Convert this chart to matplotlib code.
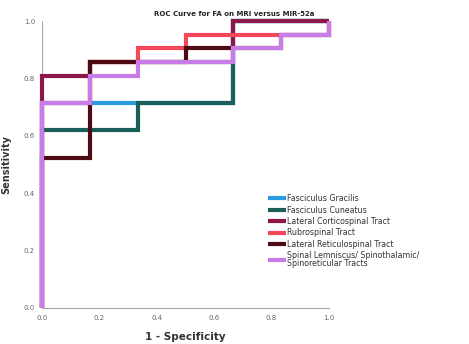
import matplotlib
matplotlib.use("Agg")
import matplotlib.pyplot as plt

title = "ROC Curve for FA on MRI versus MiR-52a"
xlabel = "1 - Specificity"
ylabel = "Sensitivity"

names = [
    "Fasciculus Gracilis",
    "Fasciculus Cuneatus",
    "Lateral Corticospinal Tract",
    "Rubrospinal Tract",
    "Lateral Reticulospinal Tract",
    "Spinal Lemniscus/ Spinothalamic/\nSpinoreticular Tracts",
]
colors = ["#2a9be0", "#1b5f5a", "#8c1748", "#f5475a", "#4d0a12", "#c87ce8"]

fx = [0, 0, 1/6, 1/6, 1/3, 1/3, 2/3, 2/3, 1]
gracilis_y = [0, 0.714, 0.714, 0.714, 0.714, 0.714, 0.714, 1.0, 1.0]
cuneatus_y = [0, 0.619, 0.619, 0.619, 0.619, 0.714, 0.714, 1.0, 1.0]

lc_x = [0, 0, 1/6, 1/6, 2/3, 2/3, 1]
lc_y = [0, 0.810, 0.810, 0.857, 0.857, 1.0, 1.0]

rs_x = [0, 0, 1/6, 1/6, 1/3, 1/3, 1/2, 1/2, 1, 1]
rs_y = [0, 0.714, 0.714, 0.857, 0.857, 0.905, 0.905, 0.952, 0.952, 1.0]

lr_x = [0, 0, 1/6, 1/6, 1/2, 1/2, 5/6, 5/6, 1, 1]
lr_y = [0, 0.524, 0.524, 0.857, 0.857, 0.905, 0.905, 0.952, 0.952, 1.0]

sl_x = [0, 0, 1/6, 1/6, 1/3, 1/3, 2/3, 2/3, 5/6, 5/6, 1, 1]
sl_y = [0, 0.714, 0.714, 0.810, 0.810, 0.857, 0.857, 0.905, 0.905, 0.952, 0.952, 1.0]

series = [
    (fx, gracilis_y),
    (fx, cuneatus_y),
    (lc_x, lc_y),
    (rs_x, rs_y),
    (lr_x, lr_y),
    (sl_x, sl_y),
]

ticks = [0.0, 0.2, 0.4, 0.6, 0.8, 1.0]
ticklabels = ["0.0", "0.2", "0.4", "0.6", "0.8", "1.0"]

fig = plt.figure(figsize=(4.69, 3.44), dpi=100)
ax = fig.add_axes([42/469, 36/344, 287/469, 287/344])

for (x, y), c, n in zip(series, colors, names):
    ax.plot(x, y, color=c, lw=3, label=n, solid_joinstyle="miter",
            solid_capstyle="butt", clip_on=False, zorder=3)

ax.set_xlim(0, 1)
ax.set_ylim(0, 1)
ax.set_xticks(ticks)
ax.set_xticklabels(ticklabels)
ax.set_yticks(ticks)
ax.set_yticklabels(ticklabels)
ax.tick_params(length=0, labelsize=5, colors="#666666", pad=5)
for s in ["top", "right"]:
    ax.spines[s].set_visible(False)
for s in ["left", "bottom"]:
    ax.spines[s].set_color("#aaaaaa")
    ax.spines[s].set_linewidth(0.8)
    ax.spines[s].set_zorder(1)

fig.text(0.5, 1 - 14/344, title, fontsize=5, fontweight="bold", color="#222222",
         ha="center", va="center")
ax.set_xlabel(xlabel, fontsize=7.5, fontweight="bold", color="#333333", labelpad=8)
ax.set_ylabel(ylabel, fontsize=7, fontweight="bold", color="#333333", labelpad=9)

leg = ax.legend(loc="upper left", bbox_to_anchor=(223/287, 1 - (191-21)/287), frameon=False,
                fontsize=5.7, handlelength=2.3, handletextpad=0.1, labelspacing=0.3,
                borderaxespad=0)
for t in leg.get_texts():
    t.set_color("#333333")
    t.set_linespacing(0.9)

fig.savefig("out.png", dpi=100)
